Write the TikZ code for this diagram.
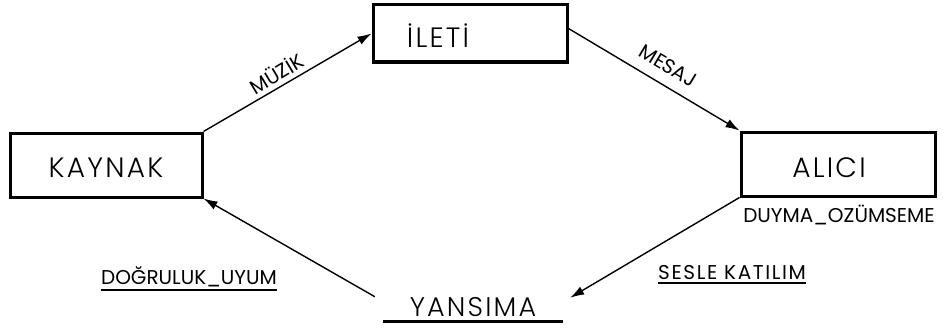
\documentclass[tikz,border=0pt]{standalone}
\usepackage{fontspec}
\setmainfont{Poppins Light}
\newfontfamily\widefont{Poppins Light}[LetterSpace=8]
\newfontfamily\labfont{Poppins}
\newfontfamily\labwidefont{Poppins}[LetterSpace=8]
\usetikzlibrary{arrows.meta}
\begin{document}
\begin{tikzpicture}[x=1pt,y=-1pt,
  box/.style={draw,line width=3pt,inner sep=0pt},
  big/.style={font=\widefont\fontsize{28}{30}\selectfont,inner sep=0pt,anchor=base},
  lab/.style={font=\labfont\fontsize{20}{22}\selectfont,inner sep=0pt},
  arr/.style={line width=1.4pt,-{Latex[length=14pt,width=9pt]}},
  ul/.style={line width=2pt}]
\useasboundingbox (0,0) rectangle (944,329);
% boxes
\node[box,minimum width=192pt,minimum height=64pt] (kaynak) at (106,165) {};
\node[box,minimum width=194pt,minimum height=57pt] (ileti) at (470,33.5) {};
\node[box,minimum width=194pt,minimum height=64pt] (alici) at (838,164) {};
% box texts
\node[big] (tk) at (106,177) {KAYNAK};
\node[big] (ti) at (438,48) {İLETİ};
\node[big] (ta) at (829,177) {ALICI};
% yansima
\node[font=\widefont\fontsize{27}{29}\selectfont,inner sep=0pt,minimum width=180pt,anchor=base] (yansima) at (473,316) {YANSIMA};
\draw[ul,line width=2.5pt] ([yshift=-5.5pt]yansima.base west) -- ([yshift=-5.5pt]yansima.base east);
% labels
\node[lab,rotate=31] (muzik) at (276,73) {MÜZİK};
\node[lab,rotate=-31] (mesaj) at (668,66) {MESAJ};
\node[lab] (duyma) at (839,215) {DUYMA\_OZÜMSEME};
\node[lab] (dogru) at (189,277) {DOĞRULUK\_UYUM};
\node[lab,font=\labwidefont\fontsize{20}{22}\selectfont] (sesle) at (732,273) {SESLE KATILIM};
\draw[ul] ([yshift=-3pt]dogru.south west) -- ([yshift=-3pt]dogru.south east);
\draw[ul] ([yshift=-3pt]sesle.south west) -- ([yshift=-3pt]sesle.south east);
% arrows
\draw[arr] (kaynak.north east) -- (ileti.west);
\draw[arr] ([yshift=5pt]ileti.east) -- (alici.north west);
\draw[arr] (alici.south west) -- ([shift={(7pt,-1pt)}]yansima.north east);
\draw[arr] ([shift={(-8pt,0pt)}]yansima.north west) -- (kaynak.south east);
\end{tikzpicture}
\end{document}
